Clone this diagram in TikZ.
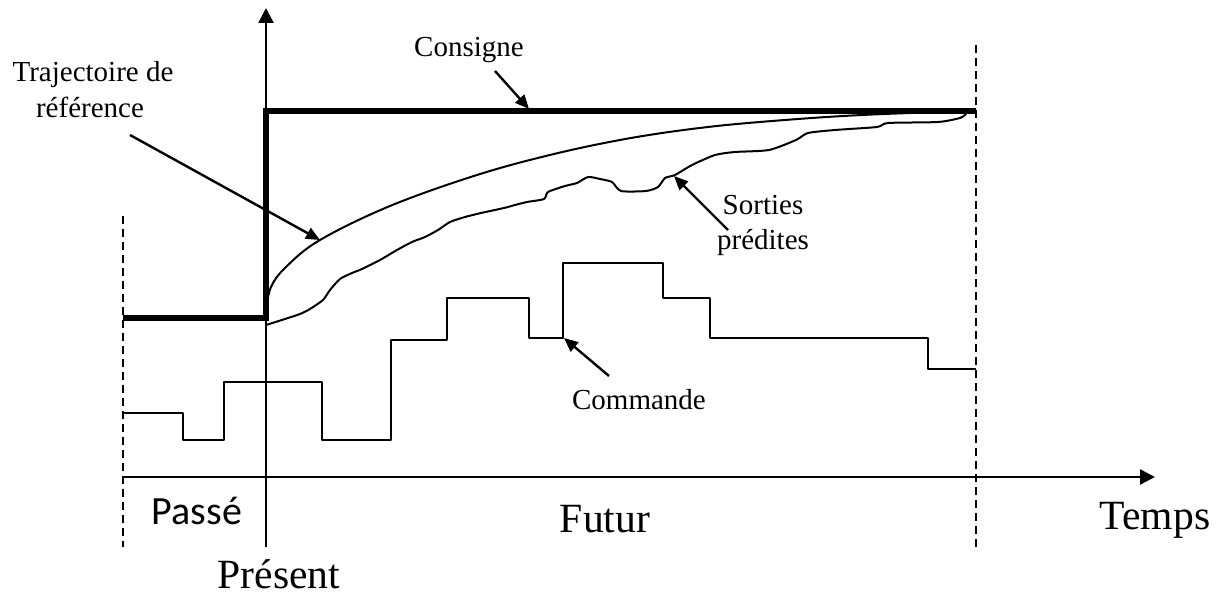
\documentclass[tikz,border=0pt]{standalone}
\usepackage{fontspec}
\setmainfont{Liberation Serif}
\newfontfamily\calfont{Carlito}
\usetikzlibrary{arrows.meta}
\begin{document}
\begin{tikzpicture}[x=0.5pt,y=-0.5pt,
  thinline/.style={line width=1pt,line join=round},
  setpt/.style={line width=3.2pt,line join=miter},
  axisline/.style={line width=1.2pt,-{Triangle[length=7.5pt,width=7.5pt]}},
  dashline/.style={line width=0.8pt,dash pattern=on 4pt off 2.5pt},
  pointer/.style={line width=1.2pt,-{Triangle[length=7pt,width=6pt]}},
  smalllbl/.style={font=\fontsize{14.5}{16}\selectfont,anchor=base,inner sep=0pt},
  biglbl/.style={font=\fontsize{20.8}{23}\selectfont,anchor=base,inner sep=0pt}]
\useasboundingbox (0,0) rectangle (1222,598);
% coordinates
\coordinate (ytop) at (266,8);
\coordinate (ybot) at (266,547);
\coordinate (xleft) at (123,477);
\coordinate (xright) at (1155,477);
\coordinate (ldtop) at (123,216);
\coordinate (ldbot) at (123,547);
\coordinate (rdtop) at (976,45);
\coordinate (rdbot) at (976,547);
% dashed limits
\draw[dashline] (ldtop) -- (ldbot);
\draw[dashline] (rdtop) -- (rdbot);
% axes
\draw[axisline] (ybot) -- (ytop);
\draw[axisline] (xleft) -- (xright);
% setpoint
\coordinate (s0) at (123,318);
\coordinate (s1) at (266,318);
\coordinate (s2) at (266,111);
\coordinate (s3) at (976,111);
\draw[setpt] (s0) -- (s1) -- (s2) -- (s3);
% reference trajectory
\draw[thinline] plot[smooth,tension=0.6] coordinates {(266,310) (271,287) (286,267) (320,240) (390,206) (477,175) (554,154) (631,138) (708,127) (785,120) (862,115) (966,111)};
% predicted outputs
\draw[thinline] plot[smooth,tension=0.4] coordinates {(266,325) (285,319) (300,314) (310,309) (323,300) (330,290) (340,279) (352,273) (362,269) (380,260) (397,250) (412,242) (425,237) (438,230) (450,222) (465,217) (481,213) (504,208) (515,205) (527,202) (544,199) (548,192) (565,186) (577,183) (588,177) (600,179) (612,182) (621,191) (646,191) (658,187) (665,178) (675,175) (692,165) (715,155) (735,152) (769,150) (796,140) (808,133) (835,130) (877,127) (888,123) (938,122) (960,118) (966,114)};
% command
\draw[thinline] (123,413) -- (183,413) -- (183,440) -- (224,440) -- (224,382) -- (322,382) -- (322,440) -- (391,440) -- (391,340) -- (447,340) -- (447,298) -- (529,298) -- (529,338) -- (563,338) -- (563,263) -- (663,263) -- (663,298) -- (710,298) -- (710,338) -- (928,338) -- (928,369) -- (976,369);
% labels
\node[smalllbl] (traj1) at (93,82) {Trajectoire de};
\node[smalllbl] (traj2) at (90,118) {référence};
\node[smalllbl] (cons) at (469,57) {Consigne};
\node[smalllbl] (sort1) at (763,215) {Sorties};
\node[smalllbl] (sort2) at (763,250) {prédites};
\node[smalllbl] (comm) at (639,410) {Commande};
\node[biglbl,font=\calfont\fontsize{20}{23}\selectfont] (passe) at (197,525) {Passé};
\node[biglbl] (present) at (279,589) {Présent};
\node[biglbl] (futur) at (605,533) {Futur};
\node[biglbl] (temps) at (1155,530) {Temps};
% pointer arrows
\coordinate (trajtail) at (130,135);
\coordinate (trajtip) at (320,240);
\coordinate (constail) at (495,71);
\coordinate (constip) at (529,109);
\coordinate (sorttail) at (728,230);
\coordinate (sorttip) at (674,176);
\coordinate (commtail) at (609,376);
\coordinate (commtip) at (564,338);
\draw[pointer] (trajtail) -- (trajtip);
\draw[pointer] (constail) -- (constip);
\draw[pointer] (sorttail) -- (sorttip);
\draw[pointer] (commtail) -- (commtip);
\end{tikzpicture}
\end{document}
